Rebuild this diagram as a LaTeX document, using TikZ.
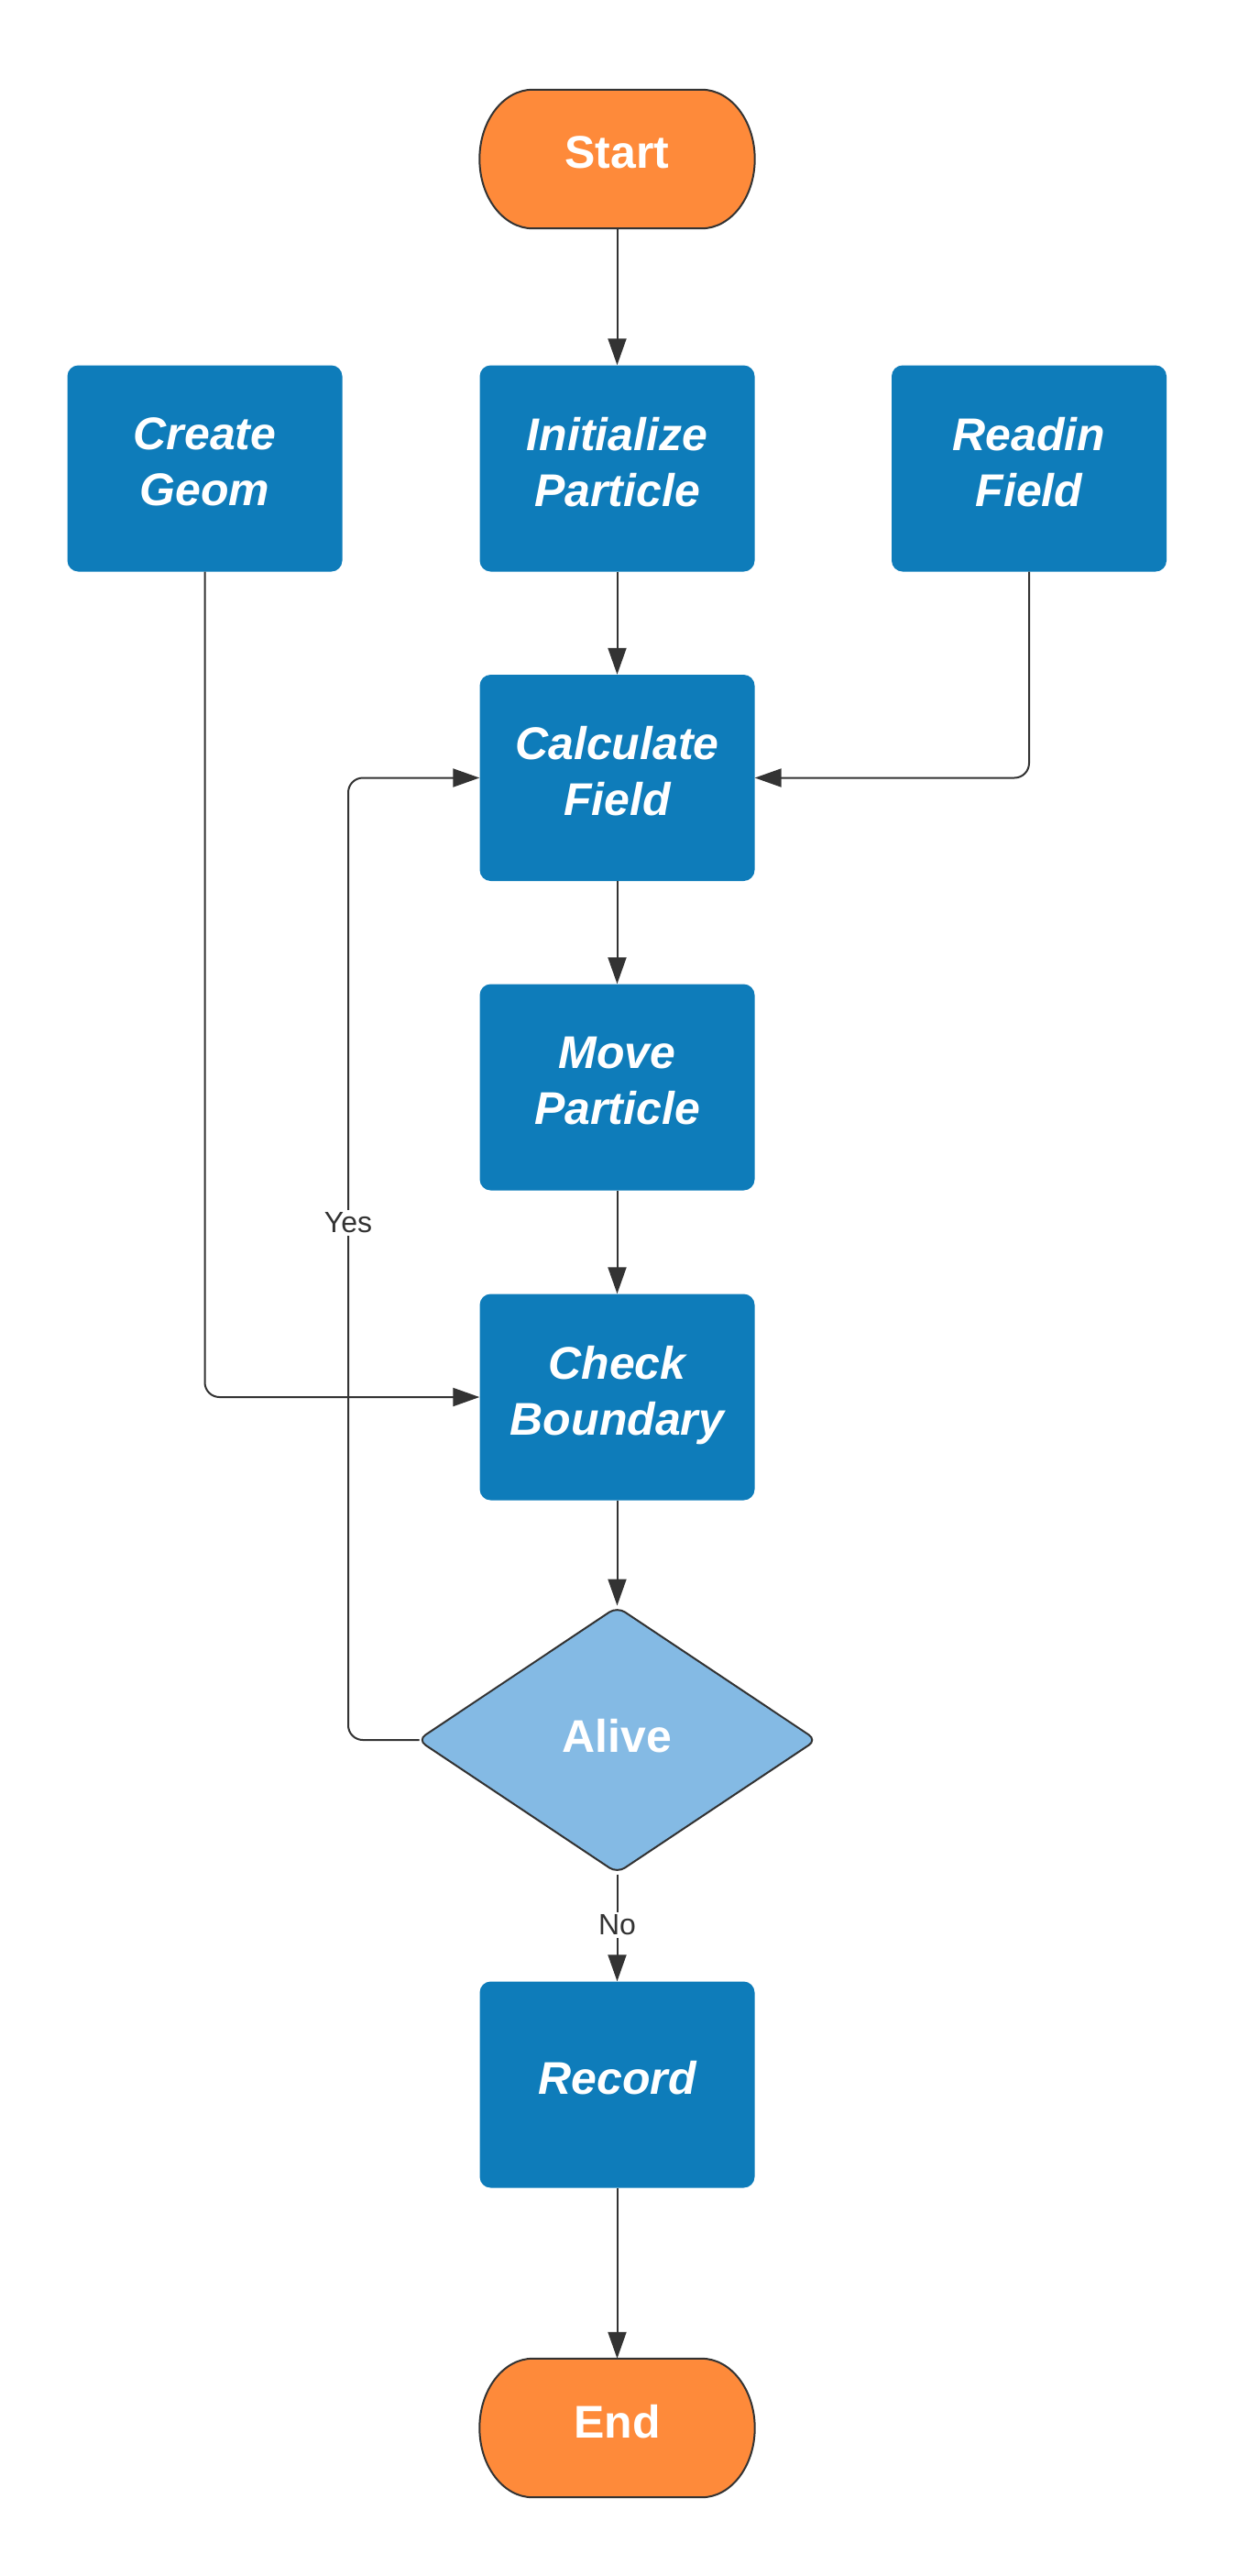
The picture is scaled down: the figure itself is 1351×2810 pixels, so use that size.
\documentclass[tikz,border=0pt]{standalone}
\usepackage{fontspec}
\setmainfont{Liberation Sans}
\usetikzlibrary{arrows.meta,shapes.geometric,backgrounds}
\definecolor{boxblue}{RGB}{14,124,186}
\definecolor{termorange}{RGB}{254,138,58}
\definecolor{decblue}{RGB}{132,186,228}
\definecolor{ink}{RGB}{51,51,51}
\tikzset{
  procbox/.style={rectangle, rounded corners=12pt, fill=boxblue, minimum width=300pt, minimum height=225pt, inner sep=0pt, align=center, text depth=15pt, text=white, font=\fontsize{50pt}{61pt}\selectfont\bfseries\itshape},
  termbox/.style={rectangle, minimum width=300pt, minimum height=151pt, inner sep=0pt, text depth=15pt, text=white, font=\fontsize{50pt}{61pt}\selectfont\bfseries},
  termfill/.style={fill=termorange, draw=ink, line width=2pt},
  decbox/.style={diamond, minimum width=436pt, minimum height=291pt, inner sep=0pt, text depth=10pt, fill=decblue, draw=ink, line width=2pt, rounded corners=10pt, text=white, font=\fontsize{50pt}{61pt}\selectfont\bfseries},
  conn/.style={draw=ink, line width=2pt, rounded corners=16pt, -{Triangle[length=29pt,width=20pt]}},
  lbl/.style={fill=white, text=ink, inner sep=3pt, font=\fontsize{32pt}{38pt}\selectfont}
}
\newcommand\termshape[1]{%
  \path[termfill] ([xshift=58pt]#1.north west) -- ([xshift=-58pt]#1.north east)
    .. controls ([xshift=-26pt]#1.north east) and ([yshift=41.7pt]#1.east) .. (#1.east)
    .. controls ([yshift=-41.7pt]#1.east) and ([xshift=-26pt]#1.south east) .. ([xshift=-58pt]#1.south east)
    -- ([xshift=58pt]#1.south west)
    .. controls ([xshift=26pt]#1.south west) and ([yshift=-41.7pt]#1.west) .. (#1.west)
    .. controls ([yshift=41.7pt]#1.west) and ([xshift=26pt]#1.north west) .. cycle;}
\begin{document}
\begin{tikzpicture}[x=1pt,y=-1pt]
\useasboundingbox (0,0) rectangle (1351,2810);
% nodes
\node[termbox] (start) at (673.5,173.5) {Start};
\node[procbox] (geom) at (223.5,511) {Create\\Geom};
\node[procbox] (init) at (673.5,511) {Initialize\\Particle};
\node[procbox] (readin) at (1123,511) {Readin\\Field};
\node[procbox] (calc) at (673.5,848.5) {Calculate\\Field};
\node[procbox] (move) at (673.5,1186) {Move\\Particle};
\node[procbox] (check) at (673.5,1524) {Check\\Boundary};
\node[decbox] (alive) at (673.5,1898) {Alive};
\node[procbox] (record) at (673.5,2274) {Record};
\node[termbox] (end) at (673.5,2648.5) {End};
\begin{scope}[on background layer]
\termshape{start}
\termshape{end}
\end{scope}
\coordinate (yespt) at (380,1334);
\coordinate (nopt) at (673.5,2100);
% connectors
\draw[conn] (start) -- (init);
\draw[conn] (init) -- (calc);
\draw[conn] (readin.south) |- (calc.east);
\draw[conn] (calc) -- (move);
\draw[conn] (move) -- (check);
\draw[conn] (geom.south) |- (check.west);
\draw[conn] (check) -- (alive);
\draw[conn] ([xshift=3pt]alive.west) -| (yespt) |- (calc.west);
\draw[conn] (alive) -- (record);
\draw[conn] (record) -- (end);
\node[lbl] (yes) at (yespt) {Yes};
\node[lbl] (no) at (nopt) {No};
\end{tikzpicture}
\end{document}
